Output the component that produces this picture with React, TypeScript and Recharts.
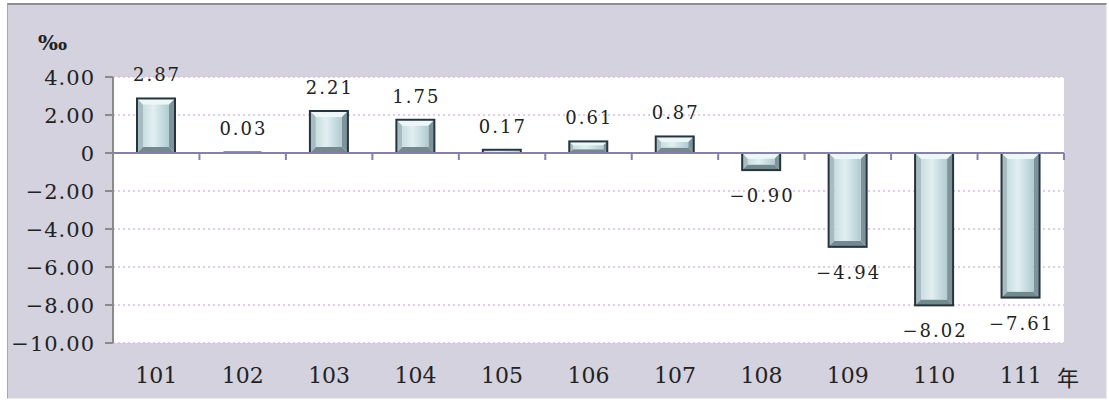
import React from 'react';
import { BarChart, Bar, XAxis, YAxis, CartesianGrid, ReferenceLine, LabelList } from 'recharts';

const years = ['101', '102', '103', '104', '105', '106', '107', '108', '109', '110', '111'];
const rates = [2.87, 0.03, 2.21, 1.75, 0.17, 0.61, 0.87, -0.9, -4.94, -8.02, -7.61];
const yTicks = [4, 2, 0, -2, -4, -6, -8, -10];

const data = years.map((year, i) => ({ year, rate: rates[i] }));

const FONT = 'DejaVu Serif';
const CJK = 'Noto Sans CJK TC';

const fmt = (v: number) => (v === 0 ? '0' : v.toFixed(2).replace('-', '\u2212'));

function BevelBar(props: any) {
  const { x, y, width, height } = props;
  const top = Math.min(y, y + height);
  const h = Math.abs(height);
  const w = width;
  const d = Math.min(6, h / 3, w / 3);
  if (h < 3) {
    return <rect x={x} y={top - 1} width={w} height={Math.max(h, 2)} fill="#3a4a58" />;
  }
  const x0 = x, x1 = x + w, y0 = top, y1 = top + h;
  return (
    <g>
      <polygon points={`${x0},${y0} ${x1},${y0} ${x1 - d},${y0 + d} ${x0 + d},${y0 + d}`} fill="#eef7f8" />
      <polygon points={`${x0},${y0} ${x0 + d},${y0 + d} ${x0 + d},${y1 - d} ${x0},${y1}`} fill="#a7bcc1" />
      <polygon points={`${x1},${y0} ${x1 - d},${y0 + d} ${x1 - d},${y1 - d} ${x1},${y1}`} fill="#7d949a" />
      <polygon points={`${x0},${y1} ${x0 + d},${y1 - d} ${x1 - d},${y1 - d} ${x1},${y1}`} fill="#71898f" />
      <rect x={x0 + d} y={y0 + d} width={w - 2 * d} height={h - 2 * d} fill="url(#barInner)" />
      <rect x={x0} y={y0} width={w} height={h} fill="none" stroke="#26343f" strokeWidth={2} />
    </g>
  );
}

function ValueLabel(props: any) {
  const { x, y, width, height, value } = props;
  const top = Math.min(y, y + height);
  const bottom = Math.max(y, y + height);
  const ty = value >= 0 ? top - 17 : bottom + 32;
  return (
    <text
      x={x + width / 2 + 1}
      y={ty}
      textAnchor="middle"
      fontFamily={FONT}
      fontSize={18}
      letterSpacing={2}
      fill="#222"
    >
      {fmt(value)}
    </text>
  );
}

function ZeroLine(props: any) {
  const { x1, y1, x2, y2 } = props;
  const n = years.length;
  const step = (x2 - x1) / n;
  const marks = Array.from({ length: n }, (_, i) => x1 + step * (i + 1));
  return (
    <g>
      <line x1={x1} y1={y1} x2={x2} y2={y2} stroke="#8581a8" strokeWidth={2} />
      {marks.map((mx, i) => (
        <line key={i} x1={mx} y1={y1} x2={mx} y2={y1 + 7} stroke="#8581a8" strokeWidth={2} />
      ))}
    </g>
  );
}

function YearTick(props: any) {
  const { x, y, payload } = props;
  return (
    <text x={x} y={y} dy={32} textAnchor="middle" fontFamily={FONT} fontSize={22} fill="#222">
      {payload.value}
    </text>
  );
}

function ValueTick(props: any) {
  const { x, y, payload } = props;
  return (
    <text x={x} y={y} dy={8} textAnchor="end" fontFamily={FONT} fontSize={21} letterSpacing={1} fill="#222">
      {fmt(payload.value as number)}
    </text>
  );
}

export default function App() {
  return (
    <div style={{ position: 'fixed', left: 0, top: 0, width: 1109, height: 403, background: '#ffffff' }}>
      <div
        style={{
          position: 'absolute',
          left: 7,
          top: 3,
          width: 1098,
          height: 393,
          background: '#d4d2de',
          borderTop: '2px solid #8e8e8e',
          borderLeft: '1px solid #a8a8a8',
          borderRight: '1px solid #ececf2',
          borderBottom: '1px solid #ececf2',
        }}
      />
      <div style={{ position: 'absolute', left: 0, top: 0 }}>
        <BarChart width={1109} height={403} data={data} margin={{ top: 77, right: 45, bottom: 0, left: 0 }} barSize={38}>
          <defs>
            <linearGradient id="barInner" x1="0" y1="0" x2="1" y2="0">
              <stop offset="0%" stopColor="#c9dde1" />
              <stop offset="40%" stopColor="#e2eff1" />
              <stop offset="100%" stopColor="#b0cbd1" />
            </linearGradient>
          </defs>
          <CartesianGrid vertical={false} fill="#ffffff" stroke="#d9b9e8" strokeDasharray="2 3" strokeWidth={1.5} />
          <XAxis
            dataKey="year"
            axisLine={false}
            tickLine={false}
            height={60}
            interval={0}
            tick={<YearTick />}
          />
          <YAxis
            width={113}
            domain={[-10, 4]}
            ticks={yTicks}
            interval={0}
            tickSize={8}
            tickMargin={10}
            axisLine={{ stroke: '#8a8a8a', strokeWidth: 2 }}
            tickLine={{ stroke: '#8a8a8a', strokeWidth: 2 }}
            tick={<ValueTick />}
          />
          <ReferenceLine y={0} shape={<ZeroLine />} />
          <Bar dataKey="rate" shape={<BevelBar />} isAnimationActive={false}>
            <LabelList dataKey="rate" content={<ValueLabel />} />
          </Bar>
        </BarChart>
      </div>
      <div style={{ position: 'absolute', left: 38, top: 30, fontFamily: FONT, fontSize: 21, fontWeight: 'bold', color: '#222' }}>
        ‰
      </div>
      <div style={{ position: 'absolute', left: 1057, top: 360, fontFamily: CJK, fontSize: 22, color: '#222' }}>
        年
      </div>
    </div>
  );
}
